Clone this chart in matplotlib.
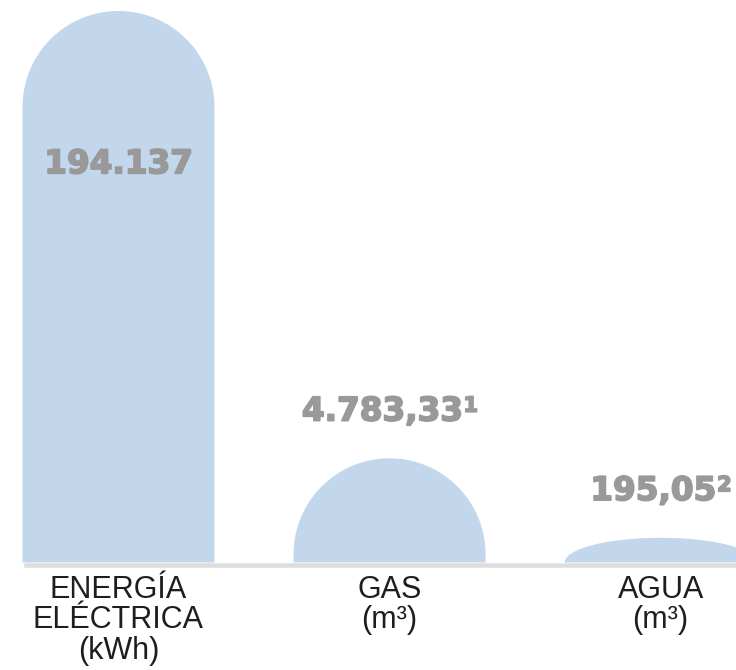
import numpy as np
import matplotlib
matplotlib.use("Agg")
import matplotlib.pyplot as plt
import matplotlib.patheffects as pe
from matplotlib.path import Path
from matplotlib.patches import PathPatch

# Consumption figures
categories = ["ENERGÍA\nELÉCTRICA\n(kWh)", "GAS\n(m³)", "AGUA\n(m³)"]
values = [194137, 4783.33, 195.05]
value_labels = ["194.137", "4.783,33", "195,05"]
value_notes = ["", "1", "2"]

BAR_COLOR = "#c2d6ec"
VALUE_COLOR = "#999999"
TEXT_COLOR = "#1e1e1e"
BASE_COLOR = "#dddddd"

POWER = 0.45


def fwd(v):
    v = np.asarray(v, dtype=float)
    return np.sign(v) * np.abs(v) ** POWER


def inv(s):
    s = np.asarray(s, dtype=float)
    return np.sign(s) * np.abs(s) ** (1.0 / POWER)


W_PX, H_PX = 736, 670
fig = plt.figure(figsize=(W_PX / 100, H_PX / 100), dpi=100)
base_px = 562.5
ax = fig.add_axes([0, (H_PX - base_px) / H_PX, 1, base_px / H_PX])
ax.set_yscale("function", functions=(fwd, inv))

x = np.arange(len(values))
bar_width = 0.708
ax.set_xlim(-0.437, 2.278)
ax.set_ylim(0, float(inv(fwd(max(values)) * 562.5 / 551.5)))

fig.canvas.draw()


def rounded_bar(ax, xc, width, value, color):
    """Bar whose top is a half-ellipse; the cap flattens when the bar is short."""
    to_px = ax.transData
    (x0, y0) = to_px.transform((xc - width / 2, 0))
    (x1, y1) = to_px.transform((xc + width / 2, value))
    rx = (x1 - x0) / 2
    h = y1 - y0
    ry = min(rx, h)
    cx = (x0 + x1) / 2
    cy = y1 - ry
    t = np.linspace(np.pi, 0, 120)
    arc = np.column_stack([cx + rx * np.cos(t), cy + ry * np.sin(t)])
    pts = np.vstack([[x0, y0], [x0, cy], arc, [x1, cy], [x1, y0], [x0, y0]])
    pts_ax = ax.transAxes.inverted().transform(pts)
    codes = [Path.MOVETO] + [Path.LINETO] * (len(pts_ax) - 2) + [Path.CLOSEPOLY]
    patch = PathPatch(Path(pts_ax, codes), facecolor=color, edgecolor="none",
                      transform=ax.transAxes, clip_on=True)
    ax.add_patch(patch)


for xi, v in zip(x, values):
    rounded_bar(ax, xi, bar_width, v, BAR_COLOR)

# Value labels: the largest sits inside its bar, the others above
VALUE_SIZE = 23.5
heavy = [pe.withStroke(linewidth=1.3, foreground=VALUE_COLOR)]
renderer = fig.canvas.get_renderer()
for i, (xi, v, lab, note) in enumerate(zip(x, values, value_labels, value_notes)):
    dy = -110 if i == 0 else 34
    main = ax.annotate(lab, xy=(xi, v), xytext=(0, dy), textcoords="offset points",
                       annotation_clip=False, family="DejaVu Sans",
                       fontweight="bold", fontsize=VALUE_SIZE, color=VALUE_COLOR,
                       ha="center", va="center", path_effects=heavy)
    if note:
        sup = ax.annotate(note, xy=(1, 1), xycoords=main, xytext=(0.5, -0.8),
                          textcoords="offset points", annotation_clip=False,
                          family="DejaVu Sans", fontweight="bold",
                          fontsize=VALUE_SIZE * 0.64, color=VALUE_COLOR,
                          ha="left", va="top", path_effects=heavy)
        # keep number + note centred over the bar
        ws = sup.get_window_extent(renderer).width * 72 / fig.dpi
        main.set_position((-ws / 2, dy))

# Axis styling: only a thick light baseline remains
for side in ("left", "right", "top"):
    ax.spines[side].set_visible(False)
ax.spines["bottom"].set_color(BASE_COLOR)
ax.spines["bottom"].set_linewidth(3.24)
ax.spines["bottom"].set_position(("outward", 1.98))
ax.spines["bottom"].set_bounds(-0.34, 2.278)
ax.set_yticks([])
ax.set_xticks(x, labels=categories)
ax.tick_params(axis="x", length=0, pad=7)
for lab in ax.get_xticklabels():
    lab.set_fontfamily("Liberation Sans")
    lab.set_fontsize(22)
    lab.set_color(TEXT_COLOR)
    lab.set_linespacing(1.02)
ax.patch.set_visible(False)

fig.savefig("out.png", dpi=100)
